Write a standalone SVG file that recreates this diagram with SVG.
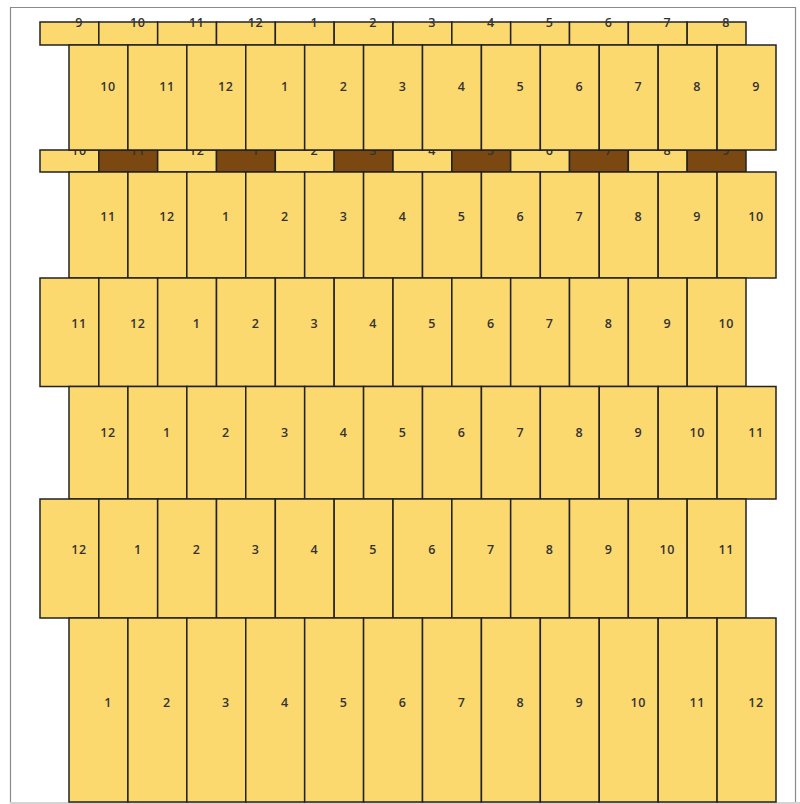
<svg xmlns="http://www.w3.org/2000/svg" width="800" height="804" viewBox="0 0 800 804">
<style>
.c{fill:#FCD96F;stroke:#222222;stroke-width:1.5}
.d{fill:#7A4810;stroke:#222222;stroke-width:1.5}
text{font-family:"Open Sans","DejaVu Sans",sans-serif;font-size:12.5px;font-weight:600;letter-spacing:0.6px;fill:#333333;text-anchor:middle}
</style>
<rect x="0" y="0" width="800" height="804" fill="#ffffff"/>
<path d="M10.5,804 V7.5 H795.5 V804" fill="none" stroke="#8a8a8a" stroke-width="1.2"/>
<rect x="10" y="802" width="790" height="2" fill="#d4d4d4"/>
<g id="rowA">
<g id="a1"><rect class="c" x="40" y="22" width="58.83" height="23"/><text x="79" y="26.5">9</text></g>
<g id="a2"><rect class="c" x="98.83" y="22" width="58.83" height="23"/><text x="137.8" y="26.5">10</text></g>
<g id="a3"><rect class="c" x="157.67" y="22" width="58.83" height="23"/><text x="196.7" y="26.5">11</text></g>
<g id="a4"><rect class="c" x="216.5" y="22" width="58.83" height="23"/><text x="255.5" y="26.5">12</text></g>
<g id="a5"><rect class="c" x="275.33" y="22" width="58.83" height="23"/><text x="314.3" y="26.5">1</text></g>
<g id="a6"><rect class="c" x="334.17" y="22" width="58.83" height="23"/><text x="373.2" y="26.5">2</text></g>
<g id="a7"><rect class="c" x="393" y="22" width="58.83" height="23"/><text x="432" y="26.5">3</text></g>
<g id="a8"><rect class="c" x="451.83" y="22" width="58.83" height="23"/><text x="490.8" y="26.5">4</text></g>
<g id="a9"><rect class="c" x="510.67" y="22" width="58.83" height="23"/><text x="549.7" y="26.5">5</text></g>
<g id="a10"><rect class="c" x="569.5" y="22" width="58.83" height="23"/><text x="608.5" y="26.5">6</text></g>
<g id="a11"><rect class="c" x="628.33" y="22" width="58.83" height="23"/><text x="667.3" y="26.5">7</text></g>
<g id="a12"><rect class="c" x="687.17" y="22" width="58.83" height="23"/><text x="726.2" y="26.5">8</text></g>
</g>
<g id="rowC">
<g id="c1"><rect class="c" x="40" y="150" width="58.83" height="22"/><text x="79" y="154.5">10</text></g>
<g id="c2"><rect class="d" x="98.83" y="150" width="58.83" height="22"/><text x="137.8" y="154.5">11</text></g>
<g id="c3"><rect class="c" x="157.67" y="150" width="58.83" height="22"/><text x="196.7" y="154.5">12</text></g>
<g id="c4"><rect class="d" x="216.5" y="150" width="58.83" height="22"/><text x="255.5" y="154.5">1</text></g>
<g id="c5"><rect class="c" x="275.33" y="150" width="58.83" height="22"/><text x="314.3" y="154.5">2</text></g>
<g id="c6"><rect class="d" x="334.17" y="150" width="58.83" height="22"/><text x="373.2" y="154.5">3</text></g>
<g id="c7"><rect class="c" x="393" y="150" width="58.83" height="22"/><text x="432" y="154.5">4</text></g>
<g id="c8"><rect class="d" x="451.83" y="150" width="58.83" height="22"/><text x="490.8" y="154.5">5</text></g>
<g id="c9"><rect class="c" x="510.67" y="150" width="58.83" height="22"/><text x="549.7" y="154.5">6</text></g>
<g id="c10"><rect class="d" x="569.5" y="150" width="58.83" height="22"/><text x="608.5" y="154.5">7</text></g>
<g id="c11"><rect class="c" x="628.33" y="150" width="58.83" height="22"/><text x="667.3" y="154.5">8</text></g>
<g id="c12"><rect class="d" x="687.17" y="150" width="58.83" height="22"/><text x="726.2" y="154.5">9</text></g>
</g>
<g id="rowB">
<g id="b1"><rect class="c" x="69" y="45" width="58.92" height="105"/><text x="108" y="90.5">10</text></g>
<g id="b2"><rect class="c" x="127.92" y="45" width="58.92" height="105"/><text x="166.9" y="90.5">11</text></g>
<g id="b3"><rect class="c" x="186.83" y="45" width="58.92" height="105"/><text x="225.8" y="90.5">12</text></g>
<g id="b4"><rect class="c" x="245.75" y="45" width="58.92" height="105"/><text x="284.8" y="90.5">1</text></g>
<g id="b5"><rect class="c" x="304.67" y="45" width="58.92" height="105"/><text x="343.7" y="90.5">2</text></g>
<g id="b6"><rect class="c" x="363.58" y="45" width="58.92" height="105"/><text x="402.6" y="90.5">3</text></g>
<g id="b7"><rect class="c" x="422.5" y="45" width="58.92" height="105"/><text x="461.5" y="90.5">4</text></g>
<g id="b8"><rect class="c" x="481.42" y="45" width="58.92" height="105"/><text x="520.4" y="90.5">5</text></g>
<g id="b9"><rect class="c" x="540.33" y="45" width="58.92" height="105"/><text x="579.3" y="90.5">6</text></g>
<g id="b10"><rect class="c" x="599.25" y="45" width="58.92" height="105"/><text x="638.3" y="90.5">7</text></g>
<g id="b11"><rect class="c" x="658.17" y="45" width="58.92" height="105"/><text x="697.2" y="90.5">8</text></g>
<g id="b12"><rect class="c" x="717.08" y="45" width="58.92" height="105"/><text x="756.1" y="90.5">9</text></g>
</g>
<g id="rowD">
<g id="d1"><rect class="c" x="69" y="172" width="58.92" height="106"/><text x="108" y="220.5">11</text></g>
<g id="d2"><rect class="c" x="127.92" y="172" width="58.92" height="106"/><text x="166.9" y="220.5">12</text></g>
<g id="d3"><rect class="c" x="186.83" y="172" width="58.92" height="106"/><text x="225.8" y="220.5">1</text></g>
<g id="d4"><rect class="c" x="245.75" y="172" width="58.92" height="106"/><text x="284.8" y="220.5">2</text></g>
<g id="d5"><rect class="c" x="304.67" y="172" width="58.92" height="106"/><text x="343.7" y="220.5">3</text></g>
<g id="d6"><rect class="c" x="363.58" y="172" width="58.92" height="106"/><text x="402.6" y="220.5">4</text></g>
<g id="d7"><rect class="c" x="422.5" y="172" width="58.92" height="106"/><text x="461.5" y="220.5">5</text></g>
<g id="d8"><rect class="c" x="481.42" y="172" width="58.92" height="106"/><text x="520.4" y="220.5">6</text></g>
<g id="d9"><rect class="c" x="540.33" y="172" width="58.92" height="106"/><text x="579.3" y="220.5">7</text></g>
<g id="d10"><rect class="c" x="599.25" y="172" width="58.92" height="106"/><text x="638.3" y="220.5">8</text></g>
<g id="d11"><rect class="c" x="658.17" y="172" width="58.92" height="106"/><text x="697.2" y="220.5">9</text></g>
<g id="d12"><rect class="c" x="717.08" y="172" width="58.92" height="106"/><text x="756.1" y="220.5">10</text></g>
</g>
<g id="rowE">
<g id="e1"><rect class="c" x="40" y="278" width="58.83" height="108.5"/><text x="79" y="327.5">11</text></g>
<g id="e2"><rect class="c" x="98.83" y="278" width="58.83" height="108.5"/><text x="137.8" y="327.5">12</text></g>
<g id="e3"><rect class="c" x="157.67" y="278" width="58.83" height="108.5"/><text x="196.7" y="327.5">1</text></g>
<g id="e4"><rect class="c" x="216.5" y="278" width="58.83" height="108.5"/><text x="255.5" y="327.5">2</text></g>
<g id="e5"><rect class="c" x="275.33" y="278" width="58.83" height="108.5"/><text x="314.3" y="327.5">3</text></g>
<g id="e6"><rect class="c" x="334.17" y="278" width="58.83" height="108.5"/><text x="373.2" y="327.5">4</text></g>
<g id="e7"><rect class="c" x="393" y="278" width="58.83" height="108.5"/><text x="432" y="327.5">5</text></g>
<g id="e8"><rect class="c" x="451.83" y="278" width="58.83" height="108.5"/><text x="490.8" y="327.5">6</text></g>
<g id="e9"><rect class="c" x="510.67" y="278" width="58.83" height="108.5"/><text x="549.7" y="327.5">7</text></g>
<g id="e10"><rect class="c" x="569.5" y="278" width="58.83" height="108.5"/><text x="608.5" y="327.5">8</text></g>
<g id="e11"><rect class="c" x="628.33" y="278" width="58.83" height="108.5"/><text x="667.3" y="327.5">9</text></g>
<g id="e12"><rect class="c" x="687.17" y="278" width="58.83" height="108.5"/><text x="726.2" y="327.5">10</text></g>
</g>
<g id="rowF">
<g id="f1"><rect class="c" x="69" y="386.5" width="58.92" height="112.5"/><text x="108" y="437">12</text></g>
<g id="f2"><rect class="c" x="127.92" y="386.5" width="58.92" height="112.5"/><text x="166.9" y="437">1</text></g>
<g id="f3"><rect class="c" x="186.83" y="386.5" width="58.92" height="112.5"/><text x="225.8" y="437">2</text></g>
<g id="f4"><rect class="c" x="245.75" y="386.5" width="58.92" height="112.5"/><text x="284.8" y="437">3</text></g>
<g id="f5"><rect class="c" x="304.67" y="386.5" width="58.92" height="112.5"/><text x="343.7" y="437">4</text></g>
<g id="f6"><rect class="c" x="363.58" y="386.5" width="58.92" height="112.5"/><text x="402.6" y="437">5</text></g>
<g id="f7"><rect class="c" x="422.5" y="386.5" width="58.92" height="112.5"/><text x="461.5" y="437">6</text></g>
<g id="f8"><rect class="c" x="481.42" y="386.5" width="58.92" height="112.5"/><text x="520.4" y="437">7</text></g>
<g id="f9"><rect class="c" x="540.33" y="386.5" width="58.92" height="112.5"/><text x="579.3" y="437">8</text></g>
<g id="f10"><rect class="c" x="599.25" y="386.5" width="58.92" height="112.5"/><text x="638.3" y="437">9</text></g>
<g id="f11"><rect class="c" x="658.17" y="386.5" width="58.92" height="112.5"/><text x="697.2" y="437">10</text></g>
<g id="f12"><rect class="c" x="717.08" y="386.5" width="58.92" height="112.5"/><text x="756.1" y="437">11</text></g>
</g>
<g id="rowG">
<g id="g1"><rect class="c" x="40" y="499" width="58.83" height="119"/><text x="79" y="553.5">12</text></g>
<g id="g2"><rect class="c" x="98.83" y="499" width="58.83" height="119"/><text x="137.8" y="553.5">1</text></g>
<g id="g3"><rect class="c" x="157.67" y="499" width="58.83" height="119"/><text x="196.7" y="553.5">2</text></g>
<g id="g4"><rect class="c" x="216.5" y="499" width="58.83" height="119"/><text x="255.5" y="553.5">3</text></g>
<g id="g5"><rect class="c" x="275.33" y="499" width="58.83" height="119"/><text x="314.3" y="553.5">4</text></g>
<g id="g6"><rect class="c" x="334.17" y="499" width="58.83" height="119"/><text x="373.2" y="553.5">5</text></g>
<g id="g7"><rect class="c" x="393" y="499" width="58.83" height="119"/><text x="432" y="553.5">6</text></g>
<g id="g8"><rect class="c" x="451.83" y="499" width="58.83" height="119"/><text x="490.8" y="553.5">7</text></g>
<g id="g9"><rect class="c" x="510.67" y="499" width="58.83" height="119"/><text x="549.7" y="553.5">8</text></g>
<g id="g10"><rect class="c" x="569.5" y="499" width="58.83" height="119"/><text x="608.5" y="553.5">9</text></g>
<g id="g11"><rect class="c" x="628.33" y="499" width="58.83" height="119"/><text x="667.3" y="553.5">10</text></g>
<g id="g12"><rect class="c" x="687.17" y="499" width="58.83" height="119"/><text x="726.2" y="553.5">11</text></g>
</g>
<g id="rowH">
<g id="h1"><rect class="c" x="69" y="618" width="58.92" height="184"/><text x="108" y="706.5">1</text></g>
<g id="h2"><rect class="c" x="127.92" y="618" width="58.92" height="184"/><text x="166.9" y="706.5">2</text></g>
<g id="h3"><rect class="c" x="186.83" y="618" width="58.92" height="184"/><text x="225.8" y="706.5">3</text></g>
<g id="h4"><rect class="c" x="245.75" y="618" width="58.92" height="184"/><text x="284.8" y="706.5">4</text></g>
<g id="h5"><rect class="c" x="304.67" y="618" width="58.92" height="184"/><text x="343.7" y="706.5">5</text></g>
<g id="h6"><rect class="c" x="363.58" y="618" width="58.92" height="184"/><text x="402.6" y="706.5">6</text></g>
<g id="h7"><rect class="c" x="422.5" y="618" width="58.92" height="184"/><text x="461.5" y="706.5">7</text></g>
<g id="h8"><rect class="c" x="481.42" y="618" width="58.92" height="184"/><text x="520.4" y="706.5">8</text></g>
<g id="h9"><rect class="c" x="540.33" y="618" width="58.92" height="184"/><text x="579.3" y="706.5">9</text></g>
<g id="h10"><rect class="c" x="599.25" y="618" width="58.92" height="184"/><text x="638.3" y="706.5">10</text></g>
<g id="h11"><rect class="c" x="658.17" y="618" width="58.92" height="184"/><text x="697.2" y="706.5">11</text></g>
<g id="h12"><rect class="c" x="717.08" y="618" width="58.92" height="184"/><text x="756.1" y="706.5">12</text></g>
</g>
<g id="connectors"/>
</svg>
